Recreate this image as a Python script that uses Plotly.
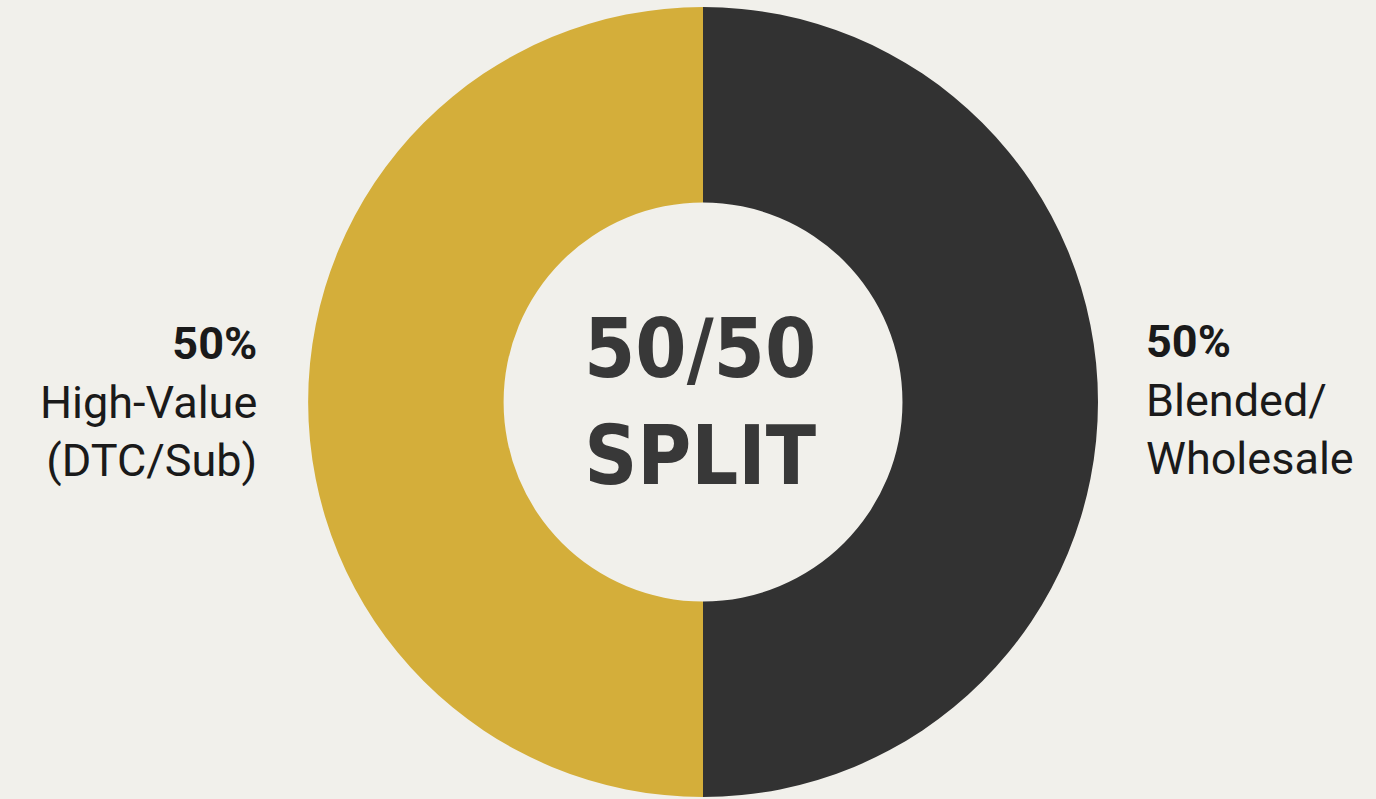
import plotly.graph_objects as go

categories = ["High-Value (DTC/Sub)", "Blended/Wholesale"]
shares = [50, 50]
colors = ["#D4AE3A", "#323232"]
left_label = ["50%", "High-Value", "(DTC/Sub)"]
right_label = ["50%", "Blended/", "Wholesale"]
center_lines = ["50/50", "SPLIT"]

W, H = 1376, 799
BG = "#F1F0EB"

fig = go.Figure()
fig.add_trace(go.Pie(
    labels=categories,
    values=shares,
    hole=0.505,
    sort=False,
    direction="clockwise",
    rotation=180,
    marker=dict(colors=colors, line=dict(width=0)),
    textinfo="none",
    hoverinfo="label+percent",
    showlegend=False,
    domain=dict(x=[308 / W, 1098 / W], y=[1 - 797 / H, 1 - 7 / H]),
))

label_font = dict(family="Roboto, Arial, sans-serif", size=45, color="#1A1A1A")

fig.add_annotation(
    xref="paper", yref="paper", x=259 / W, y=1 - 402 / H,
    xanchor="right", yanchor="middle", align="right", showarrow=False,
    text="<b>%s</b><br>%s<br>%s" % tuple(left_label), font=label_font,
)
fig.add_annotation(
    xref="paper", yref="paper", x=1144 / W, y=1 - 400 / H,
    xanchor="left", yanchor="middle", align="left", showarrow=False,
    text="<b>%s</b><br>%s<br>%s" % tuple(right_label), font=label_font,
)

center_font = dict(family="DejaVu Sans Condensed, Liberation Sans Narrow, sans-serif",
                   size=82, color="#383838", weight="bold")
fig.add_annotation(
    xref="paper", yref="paper", x=700 / W, y=1 - 402 / H,
    xanchor="center", yanchor="middle", showarrow=False,
    text="%s<br>%s" % tuple(center_lines), font=center_font,
)

fig.update_layout(
    width=W, height=H,
    margin=dict(l=0, r=0, t=0, b=0),
    paper_bgcolor=BG, plot_bgcolor=BG,
)

fig.write_html(
    "out.html",
    config={"displayModeBar": False},
    post_script="document.body.style.margin='0';document.body.style.padding='0';"
                "document.body.style.background='%s';document.documentElement.style.overflow='hidden';" % BG,
)
